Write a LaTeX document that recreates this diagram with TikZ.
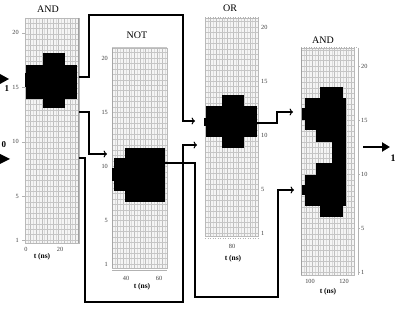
\documentclass[tikz,border=0pt]{standalone}
\usepackage{fontspec}
\setmainfont{Liberation Serif}
\usetikzlibrary{arrows.meta}
\newcommand\plotgrid[5]{%
 \begin{scope}
  \clip (#1,#2) rectangle (#3,#4);
  \fill[gray!8] (#1,#2) rectangle (#3,#4);
  \foreach \xx in {0,5.6,...,70} \draw[gray!50, line width=0.45pt] (#1+\xx,#2) -- (#1+\xx,#4);
  \foreach \xx in {2.8,8.4,...,70} \draw[gray!28, line width=0.35pt] (#1+\xx,#2) -- (#1+\xx,#4);
  \foreach \k in {-2,...,46} \draw[gray!45, line width=0.35pt] (#1,#5-\k*5.42) -- (#3,#5-\k*5.42);
 \end{scope}}
\begin{document}
\begin{tikzpicture}[x=1pt,y=-1pt,
  wire/.style={line width=1pt},
  conn/.style={line width=1.05pt, -{To[length=3.4pt,width=7pt]}},
  tk/.style={font=\fontsize{6.3}{7}\selectfont, inner sep=0pt, text=black!75},
  ttl/.style={font=\fontsize{10}{11}\selectfont, inner sep=0pt},
  axl/.style={font=\bfseries\fontsize{7.5}{8}\selectfont, inner sep=0pt},
  lvl/.style={font=\bfseries\fontsize{9}{10}\selectfont, inner sep=0pt},
  frame/.style={draw=gray!55, line width=0.4pt},
  blk/.style={fill=black}
]
\useasboundingbox (0,0) rectangle (407,326);
\fill[white] (0,0) rectangle (407,326);

% ---------- Panel 1: AND ----------
\plotgrid{25}{18}{79}{243}{240}
\draw[frame] (25,18) rectangle (79,243);
\draw[gray!75, line width=1.3pt] (78.3,18) -- (78.3,243);
\fill[blk] (26,65) rectangle (77,99);
\fill[blk] (43,53) rectangle (65,108);
\fill[blk] (25,73) rectangle (26,87);
\node[ttl] (t1) at (48,9) {AND};
\foreach \v/\l in {1/1,5/5,10/10,15/15,20/20}
  {\node[tk, anchor=east] at (19,240-10.9*\v+10.9) {\l};
   \draw[gray!60, line width=0.3pt] (22,240-10.9*\v+10.9) -- (25,240-10.9*\v+10.9);}
\node[tk] at (26,249) {0};
\node[tk] at (60,249) {20};
\node[axl] (x1) at (42,257) {t (ns)};

% ---------- Panel 2: NOT ----------
\plotgrid{112}{48}{167}{268}{264}
\draw[frame] (112,48) rectangle (167,268);
\draw[gray!70, line width=0.8pt] (112.3,48) -- (112.3,268);
\draw[gray!60, line width=0.3pt] (112,270) -- (167,270);
\fill[blk] (125,148) rectangle (165,202);
\fill[blk] (114,158) rectangle (125.5,191);
\fill[blk] (112,168) rectangle (114.5,181);
\node[ttl] (t2) at (137,35) {NOT};
\foreach \v/\l in {1/1,5/5,10/10,15/15,20/20}
  {\node[tk, anchor=east] at (108,264-10.84*\v+10.84) {\l};}
\node[tk] at (126,278) {40};
\node[tk] at (159,278) {60};
\node[axl] (x2) at (142,287) {t (ns)};

% ---------- Panel 3: OR ----------
\plotgrid{205}{18}{258}{236}{233}
\draw[frame] (205,18) rectangle (258,236);
\draw[gray!60, line width=0.5pt, dotted] (205,17) -- (258,17);
\draw[gray!60, line width=0.5pt, dotted] (205,238) -- (258,238);
\fill[blk] (206,106) rectangle (257,137);
\fill[blk] (222,95) rectangle (244,148);
\fill[blk] (204,118) rectangle (206.5,126);
\node[ttl] (t3) at (230,8) {OR};
\foreach \v/\l in {1/1,5/5,10/10,15/15,20/20}
  {\node[tk, anchor=west] at (261,233-10.8*\v+10.8) {\l};}
\node[tk] at (232,246) {80};
\node[axl] (x3) at (233,259) {t (ns)};

% ---------- Panel 4: AND ----------
\plotgrid{301}{48}{354}{275}{272}
\draw[frame] (301,48) rectangle (354,275);
\draw[gray!60, line width=0.4pt] (358,48) -- (358,275);
\draw[gray!75, line width=1.3pt] (301.5,48) -- (301.5,275);
\draw[gray!60, line width=0.5pt, dotted] (301,47) -- (358,47);
\fill[blk] (320,87) rectangle (343,98.5);
\fill[blk] (305,98) rectangle (346,130.5);
\fill[blk] (302,108) rectangle (305.5,120);
\fill[blk] (316,130) rectangle (346,142.5);
\fill[blk] (332,142) rectangle (346,163.5);
\fill[blk] (316,163) rectangle (346,175.5);
\fill[blk] (305,175) rectangle (346,205.5);
\fill[blk] (302,185) rectangle (305.5,195);
\fill[blk] (320,205) rectangle (343,217);
\node[ttl] (t4) at (323,40) {AND};
\foreach \v/\l in {1/1,5/5,10/10,15/15,20/20}
  {\node[tk, anchor=west] at (361,272-10.84*\v+10.84) {\l};
   \draw[gray!60, line width=0.3pt] (358,272-10.84*\v+10.84) -- (360,272-10.84*\v+10.84);}
\node[tk] at (310,281) {100};
\node[tk] at (344,281) {120};
\node[axl] (x4) at (328,292) {t (ns)};

% ---------- input levels ----------
\fill (0,74) -- (9,79) -- (0,84) -- cycle;
\node[lvl] (in1) at (7,89) {1};
\fill (0,154) -- (10,159) -- (0,164) -- cycle;
\node[lvl] (in0) at (4,145) {0};

% ---------- ports ----------
\coordinate (a1oA) at (79,77);
\coordinate (a1oB) at (79,112);
\coordinate (a1oC) at (79,158);
\coordinate (notin) at (107,154);
\coordinate (noto) at (165,163);
\coordinate (orinA) at (195,121);
\coordinate (orinB) at (197,145);
\coordinate (oro) at (257,123);
\coordinate (a2inA) at (293,112);
\coordinate (a2inB) at (294,190);
\coordinate (outS) at (363,147);
\coordinate (outE) at (390,147);

% ---------- connectors ----------
\draw[conn] (a1oA) -- (89,77) -- (89,15) -- (183,15) -- (183,121) -- (orinA);
\draw[conn] (a1oB) -- (89,112) -- (89,154) -- (notin);
\draw[conn] (a1oC) -- (85,158) -- (85,302) -- (183,302) -- (183,145) -- (orinB);
\draw[conn] (noto) -- (195,163) -- (195,297) -- (278,297) -- (278,190) -- (a2inB);
\draw[conn] (oro) -- (277,123) -- (277,112) -- (a2inA);
\draw[line width=2pt, -{Triangle[length=8pt,width=9pt]}] (outS) -- (outE);
\node[lvl, font=\bfseries\fontsize{10}{11}\selectfont] (out1) at (393,158) {1};
\end{tikzpicture}
\end{document}
